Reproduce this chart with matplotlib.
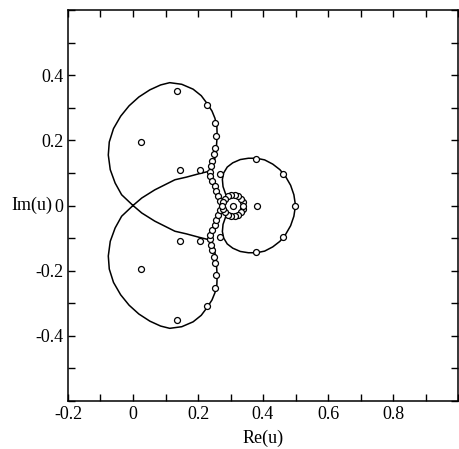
import matplotlib
matplotlib.use("Agg")
import matplotlib.pyplot as plt
import numpy as np
from matplotlib.ticker import MultipleLocator, FuncFormatter

plt.rcParams["font.family"] = ["Liberation Serif", "DejaVu Serif"]
plt.rcParams["axes.unicode_minus"] = False

# upper half of the left lobe (closed loop through the origin); lower lobe is its mirror
lobe_x = [0.0, -0.035, -0.055, -0.07, -0.076, -0.073, -0.06, -0.038, -0.012, 0.018,
          0.052, 0.085, 0.113, 0.15, 0.185, 0.21, 0.228, 0.243, 0.252,
          0.258, 0.259, 0.257, 0.254, 0.249, 0.242, 0.234, 0.205, 0.164, 0.129, 0.067,
          0.027, 0.0]
lobe_y = [0.0, 0.033, 0.069, 0.11, 0.155, 0.195, 0.236, 0.274, 0.306, 0.333,
          0.355, 0.37, 0.377, 0.372, 0.357, 0.337, 0.313, 0.29, 0.268,
          0.243, 0.215, 0.185, 0.155, 0.13, 0.11, 0.105, 0.098, 0.087, 0.079, 0.048,
          0.023, 0.0]

# branch from the lobe junction down to the small ring
chain_x = [0.242, 0.239, 0.243, 0.25, 0.257, 0.264, 0.27]
chain_y = [0.11, 0.095, 0.078, 0.058, 0.04, 0.022, 0.0]

# upper half of the right (heart shaped) curve
heart_x = [0.285, 0.277, 0.275, 0.279, 0.29, 0.307, 0.33, 0.355, 0.38, 0.405,
           0.43, 0.452, 0.47, 0.485, 0.495, 0.5]
heart_y = [0.035, 0.058, 0.08, 0.1, 0.118, 0.131, 0.141, 0.145, 0.145, 0.14,
           0.127, 0.11, 0.088, 0.062, 0.033, 0.0]

# zeros in the upper half plane (mirrored below)
zero_x = [0.0245, 0.134, 0.228, 0.253, 0.256, 0.252, 0.248, 0.244, 0.241, 0.238,
          0.238, 0.244, 0.251, 0.256, 0.263, 0.269, 0.144, 0.206, 0.268, 0.379, 0.462,
          0.337, 0.332, 0.323, 0.313, 0.301, 0.291, 0.282, 0.277]
zero_y = [0.195, 0.351, 0.309, 0.254, 0.214, 0.176, 0.157, 0.138, 0.121, 0.104,
          0.09, 0.075, 0.059, 0.044, 0.029, 0.015, 0.11, 0.11, 0.098, 0.143, 0.097,
          0.011, 0.021, 0.028, 0.032, 0.032, 0.028, 0.021, 0.011]

# zeros on the real axis
real_zeros = [0.307, 0.382, 0.499, 0.339, 0.275]


def main():
    fig = plt.figure(figsize=(4.59, 4.49), dpi=100)
    ax = fig.add_axes([68 / 459, 48 / 449, 390 / 459, 391 / 449])

    for sign in (1, -1):
        ax.plot(lobe_x, sign * np.array(lobe_y), "k-", lw=1.1)
        ax.plot(chain_x, sign * np.array(chain_y), "k-", lw=1.1)
        ax.plot(heart_x, sign * np.array(heart_y), "k-", lw=1.1)
        ax.plot(zero_x, sign * np.array(zero_y), "o", ms=4.3, mfc="white",
                mec="black", mew=0.9)
    ax.plot(real_zeros, np.zeros(len(real_zeros)), "o", ms=4.3, mfc="white",
            mec="black", mew=0.9)

    ax.set_xlim(-0.2, 1.0)
    ax.set_ylim(-0.6, 0.6)
    ax.set_xticks([-0.2, 0, 0.2, 0.4, 0.6, 0.8])
    ax.set_yticks([-0.4, -0.2, 0, 0.2, 0.4])
    ax.xaxis.set_minor_locator(MultipleLocator(0.1))
    ax.yaxis.set_minor_locator(MultipleLocator(0.1))
    fmt = FuncFormatter(lambda v, p: f"{v:g}")
    ax.xaxis.set_major_formatter(fmt)
    ax.yaxis.set_major_formatter(fmt)
    ax.tick_params(which="both", direction="in", top=True, right=True,
                   length=5, width=1, labelsize=13)
    for s in ax.spines.values():
        s.set_linewidth(1.1)

    ax.set_xlabel("Re(u)", fontsize=13, labelpad=5)
    ax.set_ylabel("Im(u)", fontsize=13, rotation=0, ha="right", va="center")
    ax.yaxis.set_label_coords(-0.04, 0.5)

    fig.savefig("out.png", dpi=100)


if __name__ == "__main__":
    main()
